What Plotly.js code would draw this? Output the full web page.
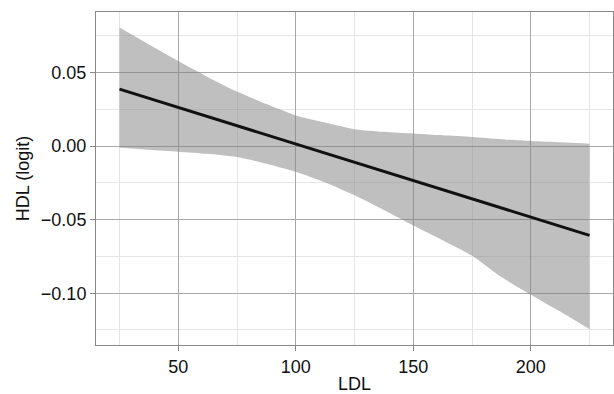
<!DOCTYPE html>
<html>
<head>
<meta charset="utf-8">
<script src="https://cdn.plot.ly/plotly-3.0.1.min.js"></script>
<style>html,body{margin:0;padding:0;background:#fff}#chart{width:614px;height:394px}</style>
</head>
<body>
<div id="chart"></div>
<script>
const ldl = [25, 37.5, 50, 62.5, 75, 87.5, 100, 112.5, 125, 137.5, 150, 162.5, 175, 187.5, 200, 212.5, 225];
const upperCI = [0.0805, 0.0690, 0.0578, 0.0470, 0.0370, 0.0285, 0.0208, 0.0160, 0.0115, 0.0097, 0.0085, 0.0073, 0.0062, 0.0047, 0.0034, 0.0025, 0.0016];
const lowerCI = [-0.0012, -0.0025, -0.0038, -0.0053, -0.0075, -0.0120, -0.0175, -0.0248, -0.0335, -0.0435, -0.0540, -0.0640, -0.0745, -0.0890, -0.1010, -0.1125, -0.1245];
const fitX = [25, 225];
const fitY = [0.0387, -0.0607];
const xTicks = [50, 100, 150, 200];
const yTicks = [-0.10, -0.05, 0.00, 0.05];
const yTickText = ['\u22120.10', '\u22120.05', '0.00', '0.05'];

const traces = [
  {x: ldl, y: lowerCI, type: 'scatter', mode: 'lines',
   line: {width: 0, shape: 'spline', smoothing: 0.6}, hoverinfo: 'skip', showlegend: false},
  {x: ldl, y: upperCI, type: 'scatter', mode: 'lines', fill: 'tonexty',
   fillcolor: 'rgba(128,128,128,0.5)', line: {width: 0, shape: 'spline', smoothing: 0.6}, hoverinfo: 'skip', showlegend: false},
  {x: fitX, y: fitY, type: 'scatter', mode: 'lines',
   line: {color: '#111111', width: 3}, showlegend: false}
];

const font = {family: '"Liberation Sans", Arial, Helvetica, sans-serif', size: 18, color: '#111'};
const layout = {
  width: 614, height: 394,
  margin: {l: 96, r: 1, t: 12, b: 49},
  paper_bgcolor: '#fff', plot_bgcolor: '#fff',
  font: font,
  showlegend: false,
  xaxis: {
    range: [15, 235], tickvals: xTicks, ticktext: xTicks.map(String),
    showgrid: true, gridcolor: '#a8a8a8', gridwidth: 1,
    minor: {tick0: 25, dtick: 50, showgrid: true, gridcolor: '#e6e6e6', gridwidth: 1},
    ticks: 'outside', ticklen: 5, tickcolor: '#888', tickwidth: 1,
    showline: true, linecolor: '#888', linewidth: 1, mirror: true,
    zeroline: false, tickfont: font,
    title: {text: 'LDL', font: font, standoff: 2}
  },
  yaxis: {
    range: [-0.1352, 0.0911], tickvals: yTicks, ticktext: yTickText,
    showgrid: true, gridcolor: '#a8a8a8', gridwidth: 1,
    minor: {tick0: -0.125, dtick: 0.05, showgrid: true, gridcolor: '#e6e6e6', gridwidth: 1},
    ticks: 'outside', ticklen: 5, tickcolor: '#888', tickwidth: 1,
    showline: true, linecolor: '#888', linewidth: 1, mirror: true,
    zeroline: false, tickfont: font,
    title: {text: 'HDL (logit)', font: font, standoff: 6}
  }
};
Plotly.newPlot('chart', traces, layout, {staticPlot: true, displayModeBar: false});
</script>
</body>
</html>
